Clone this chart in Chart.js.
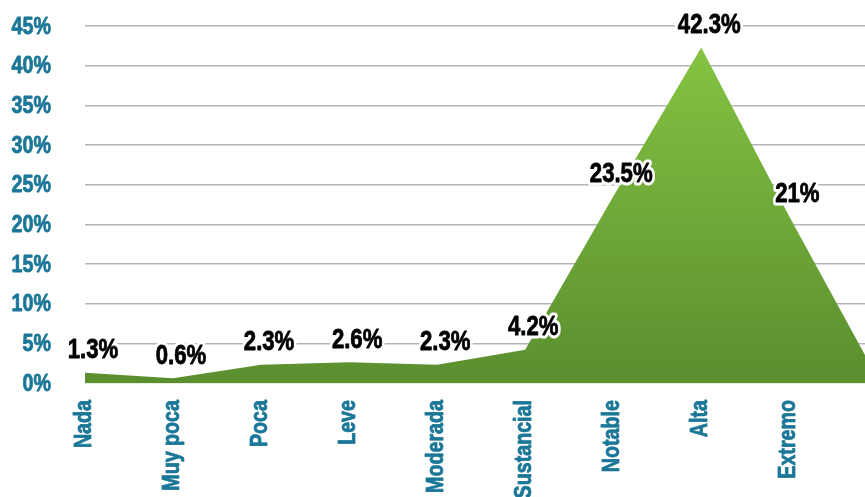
<!DOCTYPE html>
<html>
<head>
<meta charset="utf-8">
<script src="https://cdn.jsdelivr.net/npm/chart.js@4.4.0/dist/chart.umd.min.js"></script>
<style>
  html, body { margin: 0; padding: 0; background: #fff; }
  #wrap { width: 865px; height: 497px; }
</style>
</head>
<body>
<div id="wrap"><canvas id="chart"></canvas></div>
<script>
// Data
const categories = ['Nada', 'Muy poca', 'Poca', 'Leve', 'Moderada', 'Sustancial', 'Notable', 'Alta', 'Extremo'];
// last value is the tail of the area, cut off by the right edge
const values = [1.3, 0.6, 2.3, 2.6, 2.3, 4.2, 23.5, 42.3, 21, 0.7];
const valueLabels = ['1.3%', '0.6%', '2.3%', '2.6%', '2.3%', '4.2%', '23.5%', '42.3%', '21%'];
const yTicks = [0, 5, 10, 15, 20, 25, 30, 35, 40, 45];

// no narrow font installed, so squeeze Liberation Sans Bold like Arial Narrow
const FONT = "'Liberation Sans', Arial, sans-serif";
const SQUEEZE = 0.82;
const TEAL = '#1b7797';

// draw one narrow text, optionally rotated
function narrowText(ctx, txt, x, y, opts) {
  ctx.save();
  ctx.translate(x, y);
  if (opts.rotate) ctx.rotate(opts.rotate);
  ctx.scale(SQUEEZE, 1);
  ctx.font = 'bold ' + opts.size + 'px ' + FONT;
  ctx.textAlign = opts.align || 'center';
  ctx.textBaseline = 'middle';
  ctx.lineJoin = 'round';
  if (opts.halo) {
    ctx.strokeStyle = '#fff';
    ctx.lineWidth = opts.halo;
    ctx.strokeText(txt, 0, 0);
  }
  // a thin stroke in the text colour makes it a bit heavier
  ctx.strokeStyle = opts.color;
  ctx.lineWidth = 0.8;
  ctx.strokeText(txt, 0, 0);
  ctx.fillStyle = opts.color;
  ctx.fillText(txt, 0, 0);
  ctx.restore();
}

// Axis labels, drawn from the scales' own ticks
const axisLabelPlugin = {
  id: 'axisLabels',
  afterDraw(chart) {
    const ctx = chart.ctx;
    const xs = chart.scales.x;
    const ys = chart.scales.y;
    ys.ticks.forEach(t => {
      narrowText(ctx, t.value + '%', xs.left - 34, ys.getPixelForValue(t.value) + 1,
        { size: 24, align: 'right', color: TEAL });
    });
    xs.ticks.forEach(t => {
      const label = categories[t.value];
      if (!label) return;
      narrowText(ctx, label, xs.getPixelForValue(t.value) - 1, ys.bottom + 17,
        { size: 24, align: 'right', rotate: -Math.PI / 2, color: TEAL });
    });
  }
};

// Outlined value labels
const valueLabelPlugin = {
  id: 'valueLabels',
  afterDatasetsDraw(chart) {
    const meta = chart.getDatasetMeta(0);
    valueLabels.forEach((txt, i) => {
      const pt = meta.data[i];
      narrowText(chart.ctx, txt, pt.x + 8, pt.y - 22,
        { size: 27, color: '#000', halo: 7 });
    });
  }
};

function greenFill(context) {
  const chart = context.chart;
  const area = chart.chartArea;
  if (!area) return '#6a9f34';
  const top = chart.scales.y.getPixelForValue(Math.max(...values));
  const g = chart.ctx.createLinearGradient(0, top, 0, area.bottom);
  g.addColorStop(0, '#84c342');
  g.addColorStop(1, '#5a8e2f');
  return g;
}

new Chart(document.getElementById('chart'), {
  type: 'line',
  data: {
    datasets: [{
      data: values.map((v, i) => ({ x: i, y: v })),
      fill: 'origin',
      backgroundColor: greenFill,
      borderWidth: 0,
      pointRadius: 0,
      tension: 0
    }]
  },
  options: {
    responsive: true,
    maintainAspectRatio: false,
    animation: false,
    layout: { padding: { top: 26, left: 0, right: 0, bottom: 0 } },
    plugins: {
      legend: { display: false },
      tooltip: { enabled: false }
    },
    scales: {
      x: {
        type: 'linear',
        min: 0,
        max: 8.86,
        afterBuildTicks: scale => {
          scale.ticks = categories.map((c, i) => ({ value: i }));
        },
        afterFit: scale => { scale.height = 114; },
        grid: { display: false },
        border: { display: true, color: 'rgba(230,240,220,0.9)', dash: [2, 2], width: 1, z: 1 },
        ticks: { display: false }
      },
      y: {
        min: 0,
        max: 45,
        afterBuildTicks: scale => {
          scale.ticks = yTicks.map(v => ({ value: v }));
        },
        afterFit: scale => { scale.width = 85; },
        border: { display: false },
        grid: {
          drawTicks: false,
          lineWidth: 1.5,
          color: c => c.tick && c.tick.value === 0 ? 'rgba(0,0,0,0)' : '#b4b4b4'
        },
        ticks: { display: false }
      }
    }
  },
  plugins: [valueLabelPlugin, axisLabelPlugin]
});
</script>
</body>
</html>
